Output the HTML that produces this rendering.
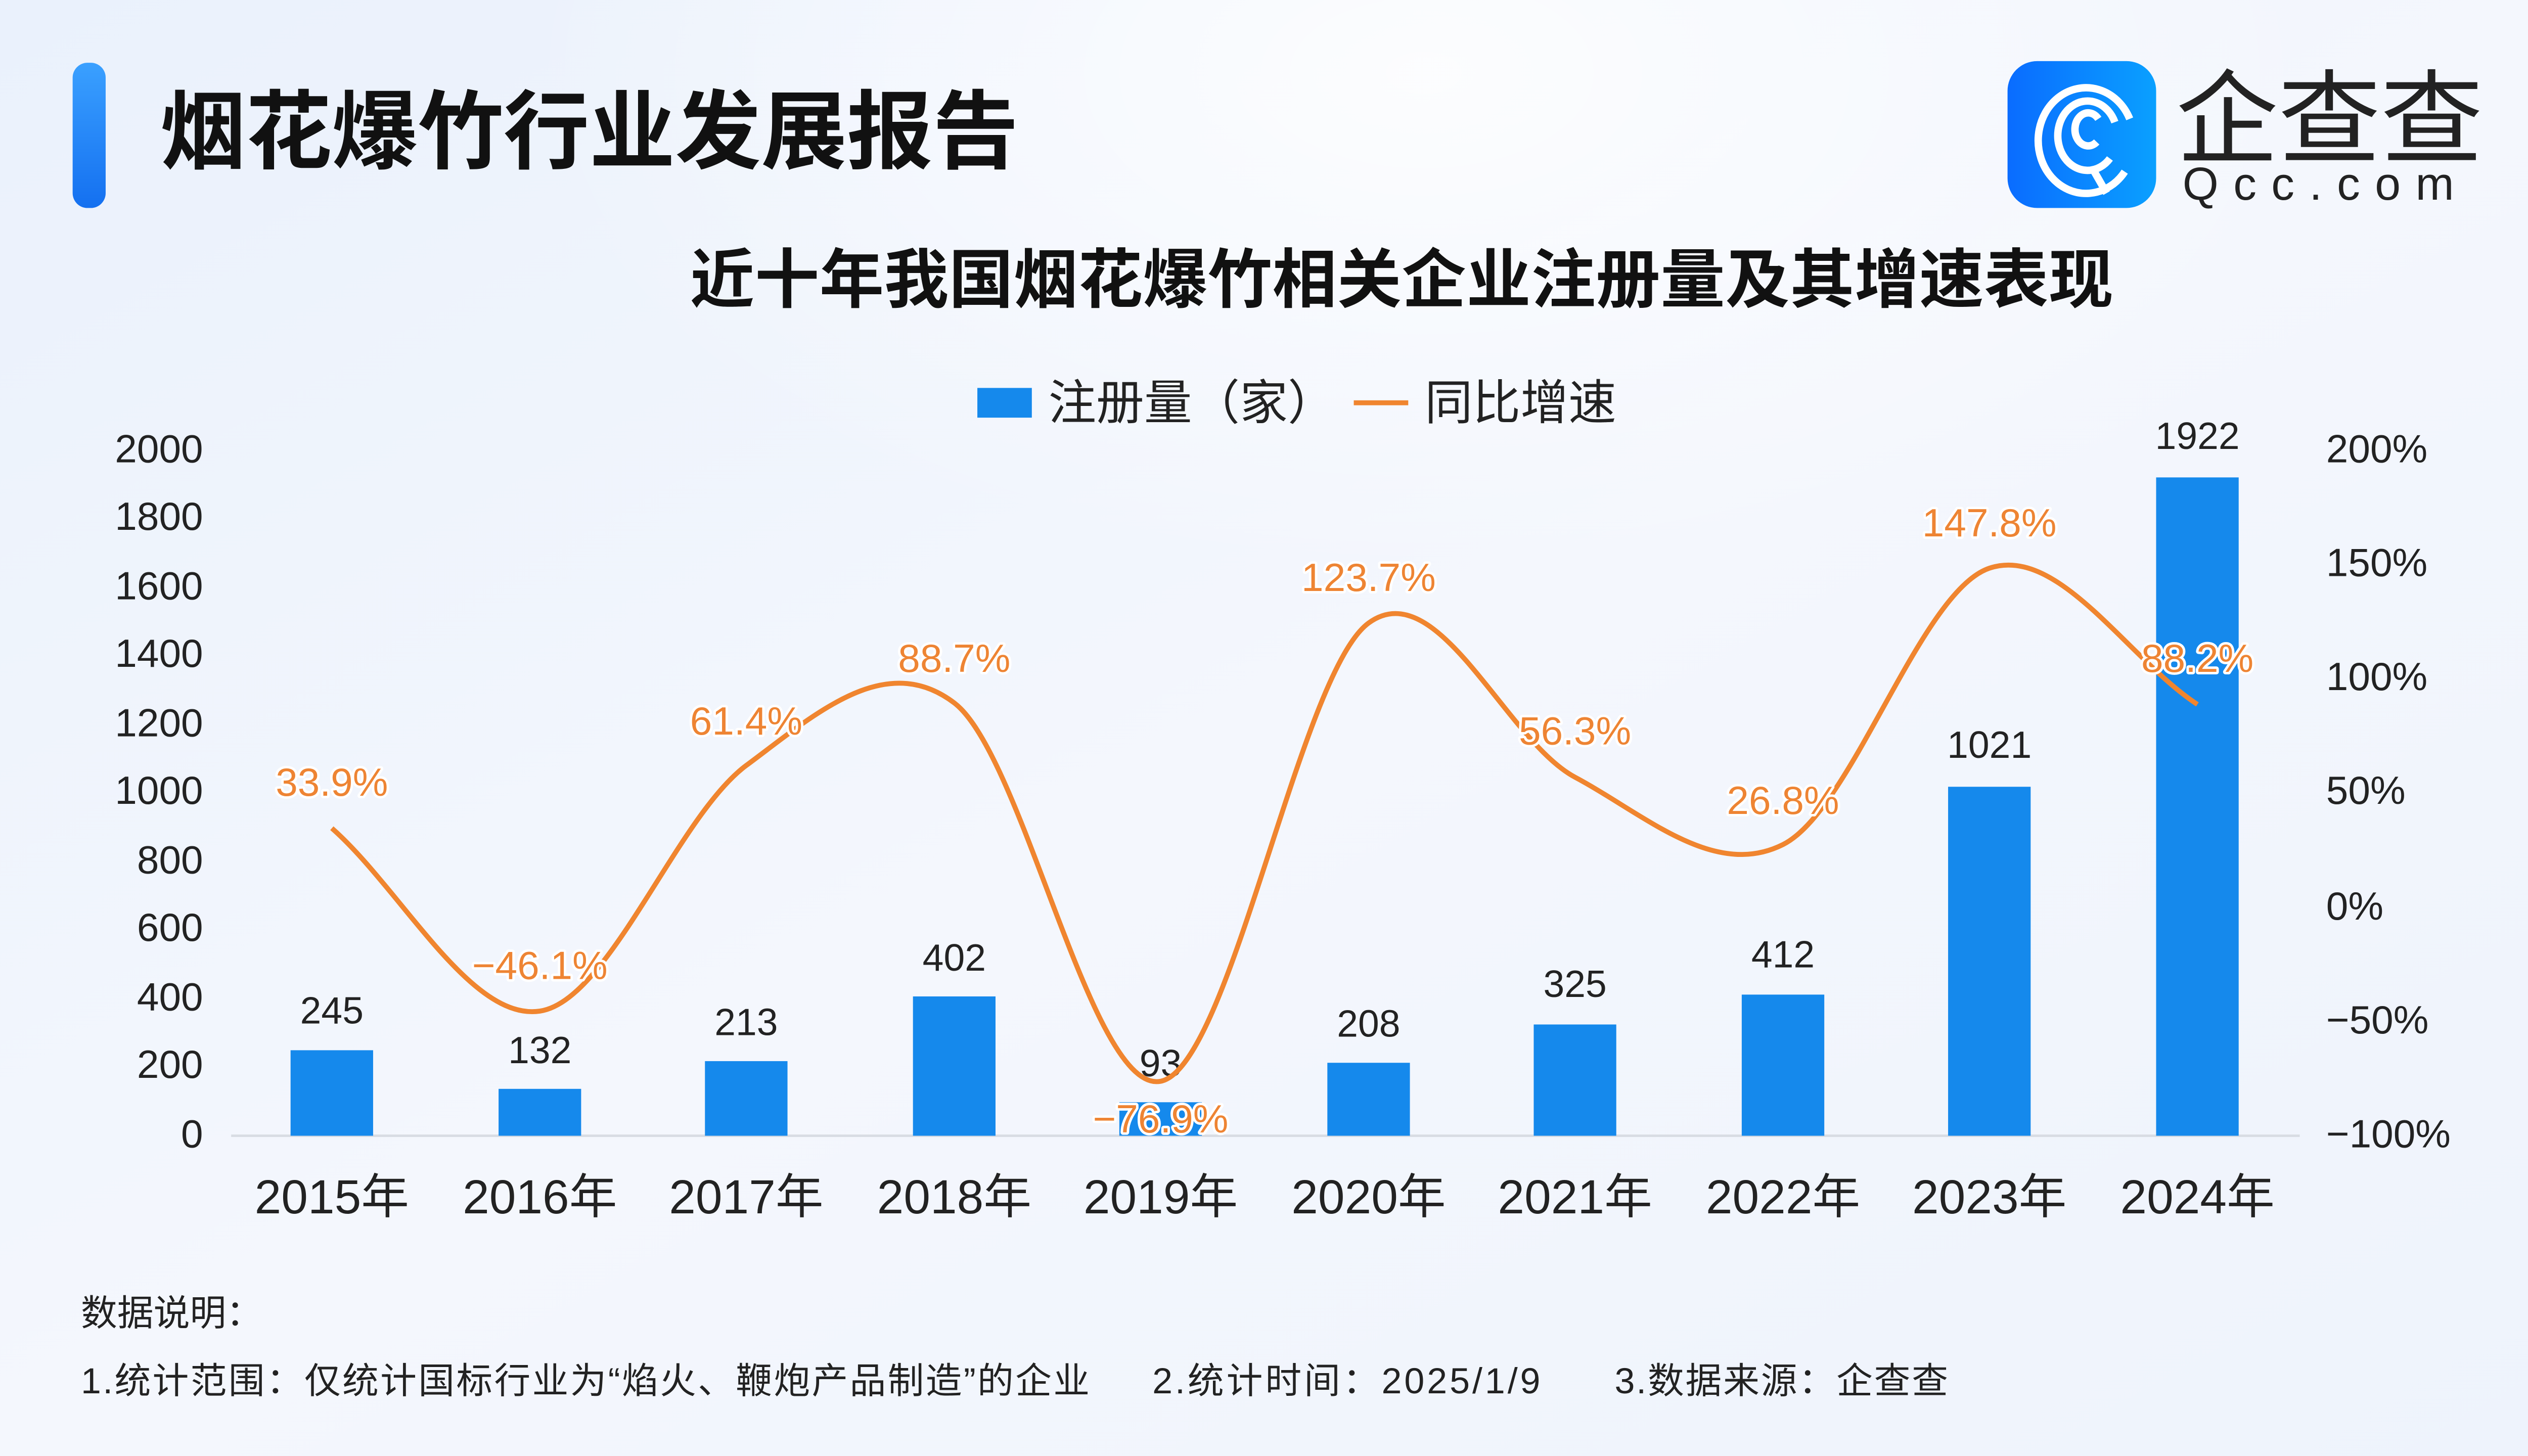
<!DOCTYPE html>
<html><head><meta charset="utf-8"><style>
html,body{margin:0;padding:0;width:5120px;height:2880px;overflow:hidden;background:#f0f5fd;}
svg{display:block}
text{font-family:"Liberation Sans","Noto Sans CJK SC",sans-serif;}
.c{font-family:"Noto Sans CJK SC","Liberation Sans",sans-serif;}
</style></head><body>
<svg width="5120" height="2880" viewBox="0 0 1568 882" xmlns="http://www.w3.org/2000/svg">
<defs>
<linearGradient id="bg" x1="0" y1="0" x2="1" y2="1">
<stop offset="0" stop-color="#eaf1fc"/><stop offset="0.5" stop-color="#f4f7fd"/><stop offset="1" stop-color="#eef3fc"/>
</linearGradient>
<radialGradient id="w1" cx="0.55" cy="0.05" r="0.35"><stop offset="0" stop-color="#ffffff" stop-opacity="0.8"/><stop offset="1" stop-color="#ffffff" stop-opacity="0"/></radialGradient>
<linearGradient id="bar" x1="0" y1="0" x2="0" y2="1"><stop offset="0" stop-color="#3aa0ff"/><stop offset="1" stop-color="#1470f0"/></linearGradient>
<linearGradient id="logo" x1="0" y1="0" x2="1" y2="0"><stop offset="0" stop-color="#0a6cff"/><stop offset="1" stop-color="#0aa0ff"/></linearGradient>
</defs>
<rect width="1568" height="882" fill="url(#bg)"/>
<rect width="1568" height="882" fill="url(#w1)"/>
<rect x="44" y="38" width="20" height="88" rx="9" fill="url(#bar)"/>
<text class="c" x="97" y="98" font-size="52" font-weight="bold" fill="#111" textLength="520">烟花爆竹行业发展报告</text>
<!-- logo -->
<rect x="1216" y="37" width="90" height="89" rx="18" fill="url(#logo)"/>
<g fill="none" stroke="#fff" stroke-width="4.5" stroke-linecap="butt">
<path d="M1287,104 A29,32 0 1 1 1290,72"/>
<path d="M1278,96 A18,21 0 1 1 1281,74"/>
<path d="M1270,86 A8,10 0 1 1 1271,72"/>
<path d="M1268,103 L1276,117"/>
</g>
<text class="c" x="1318" y="94" font-size="62" fill="#222" textLength="186">企查查</text>
<text x="1322" y="121" font-size="28" fill="#222" letter-spacing="9">Qcc.com</text>
<text class="c" x="849" y="183" font-size="39" font-weight="bold" fill="#111" text-anchor="middle" textLength="862">近十年我国烟花爆竹相关企业注册量及其增速表现</text>
<!-- legend -->
<rect x="592" y="235" width="33" height="18" fill="#1589ec"/>
<text class="c" x="635" y="254" font-size="29" fill="#222">注册量（家）</text>
<line x1="820" y1="244" x2="853" y2="244" stroke="#f0852f" stroke-width="3"/>
<text class="c" x="863" y="254" font-size="29" fill="#222">同比增速</text>
<!-- left axis -->
<g font-size="24" fill="#222" text-anchor="end">
<text x="123" y="280">2000</text><text x="123" y="321">1800</text><text x="123" y="363">1600</text>
<text x="123" y="404">1400</text><text x="123" y="446">1200</text><text x="123" y="487">1000</text>
<text x="123" y="529">800</text><text x="123" y="570">600</text><text x="123" y="612">400</text>
<text x="123" y="653">200</text><text x="123" y="695">0</text>
</g>
<g font-size="24" fill="#222">
<text x="1409" y="280">200%</text><text x="1409" y="349">150%</text><text x="1409" y="418">100%</text>
<text x="1409" y="487">50%</text><text x="1409" y="557">0%</text><text x="1409" y="626">−50%</text>
<text x="1409" y="695">−100%</text>
</g>
<line x1="140" y1="688" x2="1393" y2="688" stroke="#d8dce3" stroke-width="1.5"/>
<!-- bars -->
<g fill="#1589ec">
<rect x="176" y="636.2" width="50" height="51.8"/>
<rect x="302" y="659.6" width="50" height="28.4"/>
<rect x="427" y="642.8" width="50" height="45.2"/>
<rect x="553" y="603.6" width="50" height="84.4"/>
<rect x="678" y="667.7" width="50" height="20.3"/>
<rect x="804" y="643.8" width="50" height="44.2"/>
<rect x="929" y="620.6" width="50" height="67.4"/>
<rect x="1055" y="602.5" width="50" height="85.5"/>
<rect x="1180" y="476.6" width="50" height="211.4"/>
<rect x="1306" y="289.2" width="50" height="398.8"/>
</g>
<g font-size="23" fill="#222" text-anchor="middle">
<text x="201" y="620">245</text><text x="327" y="644">132</text><text x="452" y="627">213</text>
<text x="578" y="588">402</text><text x="703" y="652">93</text><text x="829" y="628">208</text>
<text x="954" y="604">325</text><text x="1080" y="586">412</text><text x="1205" y="459">1021</text>
<text x="1331" y="272">1922</text>
</g>
<path d="M201,501.7 C243,538.6 285,618.8 327,612.5 C369,606.2 410,494.8 452,463.7 C494,432.6 536,393.9 578,425.8 C620,457.7 661,663.1 703,655 C745,646.9 787,408.1 829,377.4 C871,346.7 912,448.4 954,470.8 C996,493.2 1038,532.7 1080,511.6 C1122,490.5 1163,358.4 1205,344.2 C1247,330 1289,399.2 1331,426.7" fill="none" stroke="#f0852f" stroke-width="3"/>
<g font-size="24" fill="#ee8433" text-anchor="middle" stroke="#fff" stroke-width="3" paint-order="stroke" stroke-linejoin="round">
<text x="201" y="482">33.9%</text><text x="327" y="593">−46.1%</text><text x="452" y="445">61.4%</text>
<text x="578" y="407">88.7%</text><text x="703" y="686">−76.9%</text><text x="829" y="358">123.7%</text>
<text x="954" y="451">56.3%</text><text x="1080" y="493">26.8%</text><text x="1205" y="325">147.8%</text>
<text x="1331" y="407">88.2%</text>
</g>
<g font-size="29" fill="#222" text-anchor="middle" class="c">
<text x="201" y="735">2015年</text><text x="327" y="735">2016年</text><text x="452" y="735">2017年</text>
<text x="578" y="735">2018年</text><text x="703" y="735">2019年</text><text x="829" y="735">2020年</text>
<text x="954" y="735">2021年</text><text x="1080" y="735">2022年</text><text x="1205" y="735">2023年</text>
<text x="1331" y="735">2024年</text>
</g>
<g font-size="22" fill="#222" class="c">
<text x="49" y="803">数据说明：</text>
<text x="49" y="844" textLength="611">1.统计范围：仅统计国标行业为“焰火、鞭炮产品制造”的企业</text>
<text x="698" y="844" textLength="235">2.统计时间：2025/1/9</text>
<text x="978" y="844" textLength="202">3.数据来源：企查查</text>
</g>
</svg>
</body></html>
